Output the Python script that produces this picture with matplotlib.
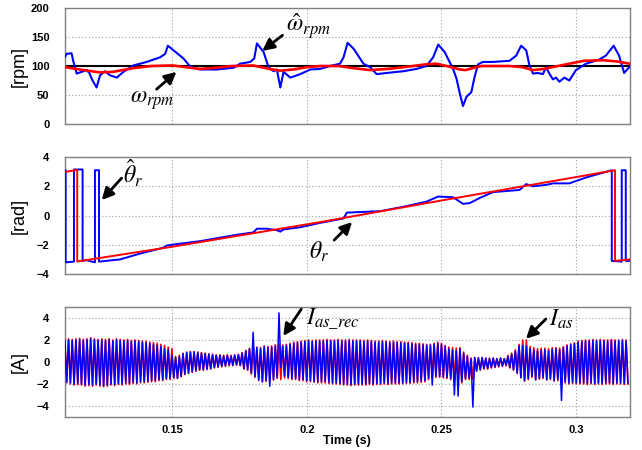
import numpy as np
import matplotlib
matplotlib.use("Agg")
import matplotlib.pyplot as plt

plt.rcParams['mathtext.fontset'] = 'stix'
plt.rcParams['font.family'] = ['Liberation Sans', 'DejaVu Sans']

BLUE = '#0000ff'
RED = '#ff0000'

# ---- speed [rpm] ----
ref_rpm = 100
wr_hat_t = [0.1098, 0.1107, 0.1125, 0.1132, 0.1144, 0.1163, 0.1181, 0.1191, 0.1203, 0.1218,
            0.1231, 0.1249, 0.1268, 0.1293, 0.1318, 0.1355, 0.1404, 0.1454, 0.1473, 0.1483,
            0.1504, 0.1541, 0.1566, 0.1603, 0.1665, 0.1727, 0.1752, 0.1789, 0.1804, 0.1814,
            0.1839, 0.1857, 0.1876, 0.1888, 0.1901, 0.1913, 0.1938, 0.1975, 0.2012, 0.2049,
            0.2086, 0.2123, 0.2136, 0.2151, 0.2173, 0.2210, 0.2235, 0.2259, 0.2296, 0.2358,
            0.2407, 0.2444, 0.2469, 0.2488, 0.2512, 0.2543, 0.2556, 0.2568, 0.2580, 0.2593,
            0.2611, 0.2623, 0.2636, 0.2654, 0.2691, 0.2753, 0.2778, 0.2796, 0.2815, 0.2827,
            0.2840, 0.2858, 0.2877, 0.2889, 0.2901, 0.2914, 0.2926, 0.2938, 0.2957, 0.2975,
            0.3000, 0.3037, 0.3086, 0.3111, 0.3140, 0.3160, 0.3179, 0.3198]
wr_hat = [114, 121, 122, 107, 87, 90, 93, 88, 75, 63,
          84, 91, 84, 80, 90, 101, 107, 115, 121, 135,
          127, 113, 99, 94, 94, 97, 104, 107, 113, 139,
          124, 98, 91, 94, 63, 90, 80, 86, 94, 95,
          100, 104, 115, 140, 130, 104, 98, 86, 88, 91,
          95, 100, 115, 137, 124, 95, 78, 53, 31, 47,
          55, 81, 103, 107, 107, 109, 118, 135, 127, 101,
          87, 88, 86, 98, 87, 77, 80, 73, 80, 75,
          93, 104, 111, 118, 135, 118, 88, 98]
wr_t = [0.110, 0.117, 0.123, 0.128, 0.135, 0.142, 0.150, 0.155, 0.160, 0.166,
        0.172, 0.180, 0.186, 0.190, 0.195, 0.200, 0.205, 0.212, 0.216, 0.2235,
        0.230, 0.236, 0.2444, 0.248, 0.252, 0.2568, 0.259, 0.262, 0.265, 0.275,
        0.280, 0.284, 0.288, 0.2975, 0.303, 0.310, 0.315, 0.320]
wr = [98, 93, 89, 90, 96, 100, 101, 98, 95, 97,
      100, 101, 95, 92, 94, 98, 100, 100, 97, 93,
      95, 98, 103, 104, 100, 94, 93, 97, 100, 100,
      98, 93, 95, 104, 109, 110, 108, 104]

# ---- rotor position [rad] ----
th_t = [0.110, 0.1146, 0.1146, 0.150, 0.2049, 0.250, 0.300, 0.3145, 0.3145, 0.320]
th = [2.98, 3.12, -3.14, -2.13, -0.45, 1.03, 2.63, 3.10, -3.10, -3.0]
th_hat_t = [0.1100, 0.1103, 0.1103, 0.1134, 0.1134, 0.1166, 0.1166, 0.1181, 0.1200, 0.1212,
            0.1212, 0.1227, 0.1227, 0.1305, 0.1380, 0.1466, 0.1479, 0.1516, 0.1603, 0.1727,
            0.1801, 0.1814, 0.1851, 0.1888, 0.1901, 0.1913, 0.1975, 0.2049, 0.2136, 0.2148,
            0.2210, 0.2272, 0.2358, 0.2444, 0.2488, 0.2543, 0.2580, 0.2605, 0.2642, 0.2691,
            0.2790, 0.2815, 0.2840, 0.2889, 0.2914, 0.2975, 0.3037, 0.3133, 0.3133, 0.3170,
            0.3170, 0.3185, 0.3185, 0.3198]
th_hat = [3.1, 3.1, -3.2, -3.15, 3.15, 3.15, -3.1, -3.05, -3.15, -3.2,
          3.1, 3.1, -3.15, -3.0, -2.6, -2.2, -2.05, -1.95, -1.75, -1.35,
          -1.15, -0.9, -0.9, -1.0, -1.1, -0.95, -0.8, -0.5, -0.2, 0.2,
          0.25, 0.3, 0.6, 0.95, 1.3, 1.25, 0.8, 0.85, 1.2, 1.6,
          1.75, 2.15, 2.0, 2.1, 2.2, 2.2, 2.6, 3.1, -3.1, -3.15,
          3.1, 3.1, -3.1, -3.1]

# ---- phase current [A], positive / negative peak of every carrier cycle ----
i_t0 = 0.110
i_period = 0.21 / 153
ias_rec_hi = [1.9, 2.0, 1.95, 2.0, 2.05, 1.95, 2.0, 2.1, 2.0, 1.95,
              2.0, 1.95, 2.05, 1.9, 2.0, 1.95, 1.9, 1.95, 1.85, 1.9,
              1.85, 1.8, 1.75, 1.7, 1.6, 1.5, 1.4, 1.2, 1.1, 0.6,
              0.4, 0.5, 0.75, 0.85, 0.9, 0.9, 0.85, 0.8, 0.75, 0.7,
              0.65, 0.6, 0.6, 0.55, 0.6, 0.55, 0.6, 0.65, 0.8, 1.0,
              1.2, 2.7, 1.3, 1.2, 1.4, 1.3, 1.35, 1.45, 4.45, 1.4,
              1.5, 1.6, 1.7, 1.75, 1.8, 1.85, 1.9, 1.85, 1.9, 1.9,
              1.9, 1.95, 1.9, 1.9, 1.95, 1.9, 1.9, 1.95, 1.9, 1.9,
              1.9, 1.85, 1.9, 1.85, 1.8, 1.8, 1.85, 1.8, 1.75, 1.8,
              1.75, 1.75, 1.7, 1.7, 1.65, 1.6, 1.6, 1.55, 1.5, 1.5,
              1.6, 1.7, 1.6, 1.4, 1.2, 1.1, 1.0, 1.2, 0.8, 0.5,
              0.3, 0.4, 0.35, 0.4, 0.35, 0.3, 0.35, 0.3, 0.35, 0.3,
              0.5, 0.7, 1.0, 1.45, 1.5, 1.45, 1.2, 1.1, 1.0, 1.05,
              1.1, 1.0, 1.15, 1.2, 1.1, 1.3, 1.45, 1.55, 1.65, 1.8,
              1.85, 1.9, 1.9, 1.95, 1.9, 1.95, 1.9, 1.9, 1.95, 1.9, 1.9, 1.95, 1.9]
ias_rec_lo = [-1.8, -1.9, -2.0, -1.95, -2.0, -2.1, -2.05, -2.1, -2.0, -2.1,
              -2.2, -2.1, -2.0, -2.05, -1.95, -2.0, -1.9, -1.95, -1.85, -1.9,
              -1.8, -1.8, -1.75, -1.7, -1.7, -1.6, -1.6, -1.5, -1.5, -1.4,
              -1.5, -1.3, -1.1, -1.0, -0.9, -0.8, -0.7, -0.7, -0.65, -0.6,
              -0.5, -0.45, -0.4, -0.35, -0.3, -0.3, -0.25, -0.3, -0.6, -0.7,
              -1.0, -1.3, -1.6, -1.8, -1.7, -2.2, -1.6, -1.4, -0.5, -1.3,
              -1.4, -1.5, -1.5, -1.6, -1.6, -1.7, -1.7, -1.75, -1.8, -1.8,
              -1.8, -1.85, -1.9, -1.9, -1.95, -2.0, -2.0, -2.05, -2.0, -2.0,
              -2.0, -2.0, -1.95, -2.0, -1.95, -1.95, -1.9, -1.95, -1.9, -1.9,
              -1.9, -1.9, -1.85, -1.85, -1.8, -1.8, -1.75, -1.7, -1.5, -2.1,
              -1.3, -1.3, -1.35, -1.4, -1.5, -3.0, -3.1, -1.8, -1.5, -1.5,
              -4.1, -0.8, -0.7, -0.6, -0.6, -0.5, -0.45, -0.4, -0.35, -0.3,
              -0.5, -0.7, -1.0, -1.4, -1.7, -1.5, -1.3, -1.6, -1.5, -1.4,
              -1.6, -1.5, -1.7, -1.6, -3.5, -1.8, -1.9, -1.85, -1.9, -1.9,
              -1.9, -1.95, -1.9, -1.95, -1.9, -1.95, -1.9, -1.9, -1.95, -1.9, -1.9, -1.95, -1.9]
ias_hi = [2.05, 2.1, 2.05, 2.1, 2.15, 2.05, 2.1, 2.2, 2.1, 2.05,
          2.1, 2.05, 2.1, 2.0, 2.1, 2.05, 2.0, 2.05, 1.95, 2.0,
          1.95, 1.9, 1.9, 1.8, 1.75, 1.7, 1.6, 1.5, 1.35, 1.2,
          0.5, 0.6, 0.8, 0.9, 0.95, 0.95, 0.9, 0.85, 0.8, 0.75,
          0.7, 0.65, 0.65, 0.6, 0.65, 0.6, 0.65, 0.7, 0.85, 1.05,
          1.25, 1.3, 1.35, 1.3, 1.45, 1.4, 1.45, 1.55, 1.6, 1.55,
          1.6, 1.7, 1.8, 1.85, 1.9, 1.95, 2.0, 1.95, 2.0, 2.0,
          2.0, 2.05, 2.0, 2.0, 2.05, 2.0, 2.0, 2.05, 2.0, 2.0,
          2.0, 1.95, 2.0, 1.95, 1.9, 1.9, 1.95, 1.9, 1.85, 1.9,
          1.85, 1.85, 1.8, 1.8, 1.75, 1.7, 1.7, 1.65, 1.6, 1.6,
          1.7, 1.8, 1.7, 1.5, 1.35, 1.3, 1.25, 1.3, 0.9, 0.6,
          0.35, 0.4, 0.4, 0.4, 0.35, 0.35, 0.35, 0.3, 0.35, 0.3,
          0.6, 0.8, 1.1, 1.6, 2.0, 2.0, 1.4, 1.3, 1.2, 1.25,
          1.25, 1.2, 1.3, 1.3, 1.25, 1.4, 1.55, 1.65, 1.75, 1.9,
          1.95, 2.0, 2.0, 2.05, 2.0, 2.05, 2.0, 2.0, 2.05, 2.0, 2.0, 2.05, 2.0]
ias_lo = [-1.9, -2.0, -2.1, -2.05, -2.1, -2.2, -2.15, -2.2, -2.1, -2.2,
          -2.25, -2.2, -2.1, -2.15, -2.05, -2.1, -2.0, -2.05, -1.95, -2.0,
          -1.9, -1.9, -1.85, -1.8, -1.8, -1.7, -1.7, -1.6, -1.6, -1.5,
          -1.5, -1.35, -1.15, -1.05, -0.95, -0.85, -0.75, -0.75, -0.7, -0.65,
          -0.55, -0.5, -0.45, -0.4, -0.35, -0.35, -0.3, -0.35, -0.65, -0.75,
          -1.1, -1.4, -1.7, -1.8, -1.75, -1.7, -1.65, -1.5, -1.6, -1.45,
          -1.5, -1.6, -1.6, -1.7, -1.7, -1.8, -1.8, -1.85, -1.9, -1.9,
          -1.9, -1.95, -2.0, -2.0, -2.05, -2.1, -2.1, -2.15, -2.1, -2.1,
          -2.1, -2.1, -2.05, -2.1, -2.05, -2.05, -2.0, -2.05, -2.0, -2.0,
          -2.0, -2.0, -1.95, -1.95, -1.9, -1.9, -1.85, -1.8, -1.6, -1.45,
          -1.4, -1.4, -1.45, -1.5, -1.6, -1.7, -1.8, -1.9, -1.6, -1.6,
          -1.6, -0.85, -0.75, -0.65, -0.65, -0.55, -0.5, -0.45, -0.4, -0.35,
          -0.55, -0.75, -1.05, -1.45, -1.75, -1.6, -1.4, -1.65, -1.55, -1.5,
          -1.65, -1.6, -1.75, -1.7, -1.8, -1.9, -2.0, -1.95, -2.0, -2.0,
          -2.0, -2.05, -2.0, -2.05, -2.0, -2.05, -2.0, -2.0, -2.05, -2.0, -2.0, -2.05, -2.0]

x_ticks = [0.15, 0.2, 0.25, 0.3]
x_labels = ['0.15', '0.2', '0.25', '0.3']


def zigzag(hi, lo):
    y = np.column_stack([hi, lo]).ravel()
    t = i_t0 + np.arange(len(y)) * i_period / 2
    return t, y


def style(ax, ylim, yticks, ylabel):
    ax.set_xlim(0.11, 0.32)
    ax.set_ylim(*ylim)
    ax.set_yticks(yticks)
    ax.set_xticks(x_ticks)
    ax.grid(True, color='#a0a0a0', linestyle=(0, (1, 2)), linewidth=0.8)
    ax.tick_params(length=0, labelsize=8)
    ax.tick_params(axis='y', pad=11)
    ax.tick_params(axis='x', pad=6)
    for lab in ax.get_yticklabels():
        lab.set_fontweight('bold')
    for s in ax.spines.values():
        s.set_color('#808080')
        s.set_linewidth(1.0)
    ax.set_ylabel(ylabel, fontsize=13)
    ax.yaxis.set_label_coords(-0.066, 0.5)


arrow = dict(arrowstyle='-|>,head_width=0.35,head_length=0.7', lw=2, color='k',
             shrinkA=0, shrinkB=0)
mfs = 17

fig = plt.figure(figsize=(6.42, 4.5), dpi=100)
ax1 = fig.add_axes([0.101, 0.7244, 0.880, 0.2578])
ax2 = fig.add_axes([0.101, 0.391, 0.880, 0.260])
ax3 = fig.add_axes([0.101, 0.0733, 0.880, 0.2447])

# speed
ax1.axhline(ref_rpm, color='k', lw=1.5, zorder=2)
ax1.plot(wr_hat_t, wr_hat, color=BLUE, lw=1.5, zorder=3)
ax1.plot(wr_t, wr, color=RED, lw=1.9, zorder=4)
style(ax1, (0, 200), [0, 50, 100, 150, 200], '[rpm]')
ax1.set_xticklabels([])
ax1.annotate('', xy=(0.1834, 126), xytext=(0.1909, 153), arrowprops=arrow)
ax1.text(0.1923, 169, r'$\hat{\omega}_{rpm}$', fontsize=mfs, va='center', ha='left')
ax1.annotate('', xy=(0.1515, 90), xytext=(0.1441, 60), arrowprops=arrow)
ax1.text(0.1341, 41, r'$\omega_{rpm}$', fontsize=mfs, va='center', ha='left')

# position
ax2.plot(th_hat_t, th_hat, color=BLUE, lw=1.4, zorder=3)
ax2.plot(th_t, th, color=RED, lw=1.4, zorder=4)
style(ax2, (-4, 4), [-4, -2, 0, 2, 4], '[rad]')
ax2.set_xticklabels([])
ax2.annotate('', xy=(0.1237, 1.06), xytext=(0.1311, 2.56), arrowprops=arrow)
ax2.text(0.1315, 2.85, r'$\hat{\theta}_r$', fontsize=mfs, va='center', ha='left')
ax2.annotate('', xy=(0.2168, -0.44), xytext=(0.2101, -1.68), arrowprops=arrow)
ax2.text(0.2009, -2.5, r'$\theta_r$', fontsize=mfs, va='center', ha='left')

# current
t_m, y_m = zigzag(ias_hi, ias_lo)
t_r, y_r = zigzag(ias_rec_hi, ias_rec_lo)
ax3.plot(t_m, y_m, color=RED, lw=1.2, zorder=3)
ax3.plot(t_r, y_r, color=BLUE, lw=1.1, zorder=4)
style(ax3, (-5, 5), [-4, -2, 0, 2, 4], '[A]')
ax3.set_xticklabels(x_labels, fontweight='bold')
ax3.set_xlabel('Time (s)', fontsize=9, fontweight='bold', labelpad=0)
ax3.annotate('', xy=(0.1912, 2.36), xytext=(0.1979, 4.8), arrowprops=arrow)
ax3.text(0.1998, 3.9, r'$I_{as\_rec}$', fontsize=mfs, va='center', ha='left')
ax3.annotate('', xy=(0.2814, 2.1), xytext=(0.2888, 3.9), arrowprops=arrow)
ax3.text(0.2899, 3.9, r'$I_{as}$', fontsize=mfs, va='center', ha='left')

fig.savefig('out.png', dpi=100)
